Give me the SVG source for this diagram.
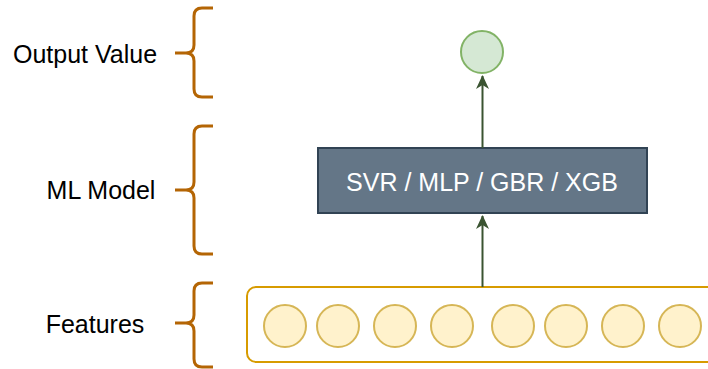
<svg xmlns="http://www.w3.org/2000/svg" width="708" height="369" viewBox="0 0 708 369">
<style>
.lbl{font-family:"Liberation Sans",Arial,sans-serif;font-size:25px;fill:#000;text-anchor:middle;dominant-baseline:central}
.brace{fill:none;stroke:#b46504;stroke-width:3}
.feat{fill:#fff2cc;stroke:#d6b656;stroke-width:2}
.edge{stroke:#3a5431;stroke-width:2;fill:none}
</style>
<defs>
<marker id="arr" viewBox="0 0 14 13" refX="13" refY="6.5" markerWidth="14" markerHeight="13" orient="auto" markerUnits="userSpaceOnUse">
<path d="M0,0 L14,6.5 L0,13 L4,6.5 Z" fill="#3a5431"/>
</marker>
</defs>
<rect width="708" height="369" fill="#fff"/>
<g id="label-output">
<text class="lbl" x="85" y="54">Output Value</text>
<path class="brace" d="M213,8 L202,8 Q194,8 194,16 L194,45 Q194,53 186,53 L175,53 M186,53 Q194,53 194,61 L194,89 Q194,97 202,97 L213,97"/>
</g>
<g id="label-model">
<text class="lbl" x="101" y="190">ML Model</text>
<path class="brace" d="M213,126 L202,126 Q194,126 194,134 L194,182 Q194,190 186,190 L175,190 M186,190 Q194,190 194,198 L194,246 Q194,254 202,254 L213,254"/>
</g>
<g id="features">
<text class="lbl" x="95" y="324">Features</text>
<path class="brace" d="M213,283 L202,283 Q194,283 194,291 L194,315 Q194,323 186,323 L175,323 M186,323 Q194,323 194,331 L194,359 Q194,367 202,367 L213,367"/>
</g>
<g id="features-box">
<rect x="247" y="287" width="470" height="75" rx="9" fill="#fff" stroke="#d79b00" stroke-width="2"/>
<circle class="feat" cx="285" cy="326" r="21"/>
<circle class="feat" cx="338" cy="326" r="21"/>
<circle class="feat" cx="395" cy="326" r="21"/>
<circle class="feat" cx="452" cy="326" r="21"/>
<circle class="feat" cx="513" cy="326" r="21"/>
<circle class="feat" cx="566" cy="326" r="21"/>
<circle class="feat" cx="623" cy="326" r="21"/>
<circle class="feat" cx="680" cy="326" r="21"/>
</g>
<g id="model">
<rect x="318" y="148" width="329" height="65" fill="#647687" stroke="#314354" stroke-width="2"/>
<text class="lbl" x="482" y="182" style="fill:#fff">SVR / MLP / GBR / XGB</text>
</g>
<g id="output">
<circle cx="482" cy="52" r="21" fill="#d5e8d4" stroke="#82b366" stroke-width="2"/>
</g>
<g id="edges">
<line class="edge" x1="482.5" y1="287" x2="482.5" y2="216" marker-end="url(#arr)"/>
<line class="edge" x1="482.5" y1="148" x2="482.5" y2="76" marker-end="url(#arr)"/>
</g>
</svg>
